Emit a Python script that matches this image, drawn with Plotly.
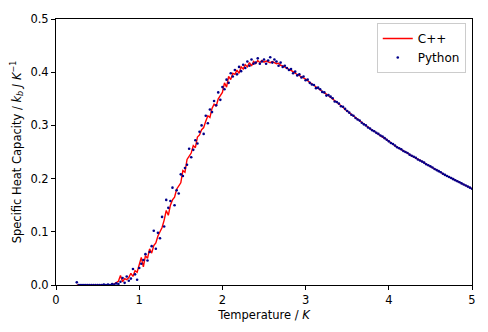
import plotly.graph_objects as go

temperature = [
    0.25, 0.275, 0.30, 0.325, 0.35, 0.375, 0.40, 0.425, 0.45, 0.475,
    0.50, 0.525, 0.55, 0.575, 0.60, 0.625, 0.65, 0.675, 0.70, 0.725,
    0.75, 0.775, 0.80, 0.825, 0.85, 0.875, 0.90, 0.925, 0.95, 0.975,
    1.00, 1.025, 1.05, 1.075, 1.10, 1.125, 1.15, 1.175, 1.20, 1.225,
    1.25, 1.275, 1.30, 1.325, 1.35, 1.375, 1.40, 1.425, 1.45, 1.475,
    1.50, 1.525, 1.55, 1.575, 1.60, 1.625, 1.65, 1.675, 1.70, 1.725,
    1.75, 1.775, 1.80, 1.825, 1.85, 1.875, 1.90, 1.925, 1.95, 1.975,
    2.00, 2.025, 2.05, 2.075, 2.10, 2.125, 2.15, 2.175, 2.20, 2.225,
    2.25, 2.275, 2.30, 2.325, 2.35, 2.375, 2.40, 2.425, 2.45, 2.475,
    2.50, 2.525, 2.55, 2.575, 2.60, 2.625, 2.65, 2.675, 2.70, 2.725,
    2.75, 2.775, 2.80, 2.825, 2.85, 2.875, 2.90, 2.925, 2.95, 2.975,
    3.00, 3.025, 3.05, 3.075, 3.10, 3.125, 3.15, 3.175, 3.20, 3.225,
    3.25, 3.275, 3.30, 3.325, 3.35, 3.375, 3.40, 3.425, 3.45, 3.475,
    3.50, 3.525, 3.55, 3.575, 3.60, 3.625, 3.65, 3.675, 3.70, 3.725,
    3.75, 3.775, 3.80, 3.825, 3.85, 3.875, 3.90, 3.925, 3.95, 3.975,
    4.00, 4.025, 4.05, 4.075, 4.10, 4.125, 4.15, 4.175, 4.20, 4.225,
    4.25, 4.275, 4.30, 4.325, 4.35, 4.375, 4.40, 4.425, 4.45, 4.475,
    4.50, 4.525, 4.55, 4.575, 4.60, 4.625, 4.65, 4.675, 4.70, 4.725,
    4.75, 4.775, 4.80, 4.825, 4.85, 4.875, 4.90, 4.925, 4.95, 4.975,
    5.00,
]

heat_cpp = [
    0.000, 0.000, 0.000, 0.000, 0.000, 0.000, 0.000, 0.000, 0.000, 0.000,
    0.000, 0.000, 0.000, 0.000, 0.000, 0.000, 0.001, 0.000, 0.002, 0.004,
    0.007, 0.018, 0.006, 0.012, 0.010, 0.014, 0.022, 0.016, 0.027, 0.024,
    0.036, 0.052, 0.034, 0.055, 0.050, 0.068, 0.060, 0.074, 0.079, 0.092,
    0.100, 0.108, 0.122, 0.140, 0.131, 0.150, 0.160, 0.165, 0.180, 0.186,
    0.192, 0.215, 0.212, 0.236, 0.242, 0.248, 0.262, 0.258, 0.278, 0.282,
    0.292, 0.296, 0.308, 0.318, 0.315, 0.332, 0.340, 0.336, 0.350, 0.356,
    0.362, 0.380, 0.372, 0.392, 0.386, 0.398, 0.396, 0.404, 0.398, 0.410,
    0.406, 0.414, 0.410, 0.418, 0.412, 0.420, 0.416, 0.422, 0.418, 0.422,
    0.419, 0.421, 0.420, 0.418, 0.420, 0.418, 0.416, 0.417, 0.413, 0.412,
    0.410, 0.407, 0.406, 0.403, 0.401, 0.398, 0.396, 0.394, 0.391, 0.389,
    0.387, 0.384, 0.381, 0.378, 0.375, 0.372, 0.370, 0.367, 0.364, 0.361,
    0.359, 0.356, 0.353, 0.350, 0.347, 0.343, 0.340, 0.337, 0.334, 0.330,
    0.327, 0.324, 0.321, 0.317, 0.314, 0.311, 0.308, 0.305, 0.302, 0.299,
    0.297, 0.294, 0.291, 0.289, 0.286, 0.284, 0.281, 0.278, 0.276, 0.273,
    0.270, 0.267, 0.265, 0.262, 0.259, 0.257, 0.255, 0.252, 0.250, 0.248,
    0.245, 0.243, 0.241, 0.239, 0.236, 0.234, 0.232, 0.230, 0.227, 0.225,
    0.223, 0.221, 0.218, 0.216, 0.214, 0.212, 0.209, 0.207, 0.205, 0.203,
    0.201, 0.199, 0.197, 0.195, 0.193, 0.191, 0.189, 0.187, 0.185, 0.183,
    0.181,
]

heat_python = [
    0.005, 0.000, 0.000, 0.000, 0.000, 0.000, 0.000, 0.000, 0.000, 0.000,
    0.000, 0.000, 0.000, 0.001, 0.000, 0.001, 0.000, 0.002, 0.001, 0.003,
    0.002, 0.006, 0.013, 0.004, 0.016, 0.008, 0.012, 0.030, 0.020, 0.010,
    0.032, 0.040, 0.047, 0.058, 0.046, 0.062, 0.073, 0.102, 0.068, 0.098,
    0.088, 0.128, 0.110, 0.160, 0.145, 0.158, 0.183, 0.150, 0.178, 0.172,
    0.208, 0.205, 0.220, 0.226, 0.256, 0.240, 0.254, 0.272, 0.266, 0.288,
    0.300, 0.284, 0.318, 0.304, 0.330, 0.325, 0.346, 0.338, 0.362, 0.348,
    0.372, 0.368, 0.386, 0.380, 0.398, 0.392, 0.404, 0.396, 0.410, 0.402,
    0.414, 0.408, 0.420, 0.412, 0.424, 0.416, 0.418, 0.426, 0.416, 0.420,
    0.424, 0.416, 0.422, 0.428, 0.418, 0.424, 0.420, 0.412, 0.418, 0.410,
    0.412, 0.408, 0.404, 0.406, 0.398, 0.401, 0.394, 0.396, 0.390, 0.392,
    0.385, 0.386, 0.380, 0.377, 0.376, 0.370, 0.371, 0.368, 0.363, 0.362,
    0.356, 0.357, 0.354, 0.351, 0.345, 0.344, 0.341, 0.336, 0.335, 0.331,
    0.327, 0.324, 0.320, 0.318, 0.314, 0.311, 0.309, 0.305, 0.302, 0.300,
    0.296, 0.294, 0.291, 0.289, 0.286, 0.284, 0.281, 0.279, 0.276, 0.273,
    0.270, 0.267, 0.265, 0.262, 0.259, 0.257, 0.255, 0.252, 0.250, 0.248,
    0.245, 0.243, 0.241, 0.239, 0.236, 0.234, 0.232, 0.230, 0.227, 0.225,
    0.223, 0.221, 0.218, 0.216, 0.214, 0.212, 0.209, 0.207, 0.205, 0.203,
    0.201, 0.199, 0.197, 0.195, 0.193, 0.191, 0.189, 0.187, 0.185, 0.183,
    0.181,
]

x_ticks = [0, 1, 2, 3, 4, 5]
y_ticks = [0.0, 0.1, 0.2, 0.3, 0.4, 0.5]

fig = go.Figure()
fig.add_trace(go.Scatter(
    x=temperature, y=heat_cpp, mode="lines", name="C++",
    line=dict(color="#ff0000", width=1.4),
))
fig.add_trace(go.Scatter(
    x=temperature, y=heat_python, mode="markers", name="Python",
    marker=dict(color="#00008b", size=2.6),
))

font = dict(family="DejaVu Sans", size=11.5, color="black")
fig.update_layout(
    width=488, height=332,
    margin=dict(l=56, r=13, t=14, b=46),
    paper_bgcolor="white", plot_bgcolor="white",
    font=font,
    showlegend=True,
    legend=dict(
        x=0.985, y=0.985, xanchor="right", yanchor="top",
        bgcolor="rgba(255,255,255,0.8)", bordercolor="#cccccc", borderwidth=1,
        font=dict(family="DejaVu Sans", size=12, color="black"),
        itemwidth=30, tracegroupgap=0,
    ),
)
fig.update_xaxes(
    range=[0, 5], tickvals=x_ticks, ticktext=[str(v) for v in x_ticks],
    showgrid=False, zeroline=False,
    showline=True, linecolor="black", linewidth=1, mirror=True,
    ticks="outside", ticklen=4, tickcolor="black",
    title=dict(text="Temperature / <i>K</i>", font=font, standoff=5),
)
fig.update_yaxes(
    range=[0, 0.5], tickvals=y_ticks, ticktext=["%.1f" % v for v in y_ticks],
    showgrid=False, zeroline=False,
    showline=True, linecolor="black", linewidth=1, mirror=True,
    ticks="outside", ticklen=4, tickcolor="black",
    title=dict(text="Specific Heat Capacity / <i>k<sub>b</sub> J K</i><sup>−1</sup>",
               font=font, standoff=6),
)

fig.write_html("out.html")
